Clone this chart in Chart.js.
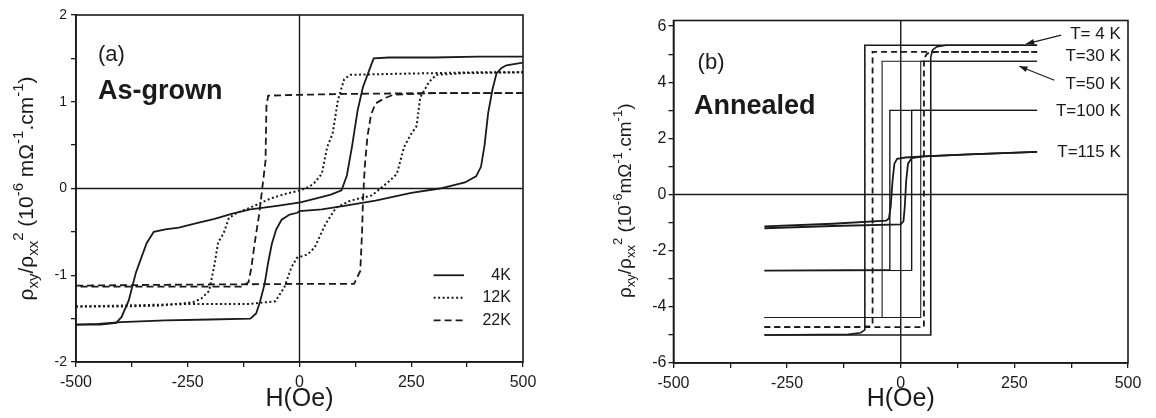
<!DOCTYPE html>
<html>
<head>
<meta charset="utf-8">
<script src="https://cdn.jsdelivr.net/npm/chart.js@4.4.1/dist/chart.umd.min.js"></script>
<style>
  html, body { margin: 0; padding: 0; background: #fff; }
  #wrap { position: relative; width: 1156px; height: 418px; overflow: hidden; }
  .panel { position: absolute; top: 0; width: 578px; height: 418px; }
</style>
</head>
<body>
<div id="wrap">
  <div class="panel" style="left:0"><canvas id="chart-a"></canvas></div>
  <div class="panel" style="left:578px"><canvas id="chart-b"></canvas></div>
</div>
<script>
// (a) As-grown — [H (Oe), rho_xy/rho_xx^2]
const a4kDown = [[500,1.52],[400,1.52],[300,1.51],[200,1.51],[166,1.50],[155,1.35],[142,1.17],[130,0.90],[118,0.50],[106,0.15],[94,-0.02],[70,-0.07],[40,-0.11],[2,-0.16],[-50,-0.20],[-110,-0.24],[-150,-0.29],[-190,-0.35],[-230,-0.40],[-270,-0.45],[-300,-0.47],[-326,-0.50],[-342,-0.63],[-354,-0.80],[-366,-0.97],[-382,-1.29],[-398,-1.48],[-410,-1.55],[-446,-1.57],[-500,-1.57]];
const a4kUp = [[-500,-1.57],[-450,-1.56],[-400,-1.54],[-300,-1.52],[-200,-1.51],[-110,-1.50],[-97,-1.44],[-88,-1.30],[-78,-1.10],[-70,-0.85],[-62,-0.64],[-52,-0.47],[-40,-0.36],[-22,-0.30],[-5,-0.28],[0,-0.26],[50,-0.24],[100,-0.20],[170,-0.14],[250,-0.05],[314,0.00],[370,0.07],[395,0.14],[406,0.25],[414,0.50],[422,0.87],[432,1.15],[441,1.33],[452,1.39],[463,1.42],[500,1.45]];
const a12kDown = [[500,1.34],[400,1.34],[300,1.33],[200,1.32],[114,1.31],[100,1.26],[86,1.02],[74,0.63],[62,0.48],[50,0.17],[34,0.07],[22,0.02],[2,-0.02],[-30,-0.06],[-62,-0.11],[-110,-0.22],[-140,-0.28],[-158,-0.34],[-170,-0.52],[-182,-0.62],[-190,-0.87],[-202,-1.18],[-220,-1.27],[-238,-1.31],[-310,-1.35],[-400,-1.36],[-500,-1.36]];
const a12kUp = [[-500,-1.36],[-400,-1.35],[-238,-1.33],[-110,-1.33],[-54,-1.30],[-34,-1.14],[-18,-0.91],[-6,-0.80],[18,-0.76],[34,-0.68],[58,-0.41],[82,-0.22],[114,-0.14],[162,-0.08],[202,0.09],[218,0.17],[234,0.48],[250,0.63],[262,0.72],[270,1.05],[290,1.23],[306,1.31],[370,1.33],[500,1.34]];
const a22kDown = [[500,1.10],[300,1.10],[100,1.09],[0,1.08],[-70,1.07],[-74,0.95],[-76,0.32],[-90,-0.29],[-100,-0.62],[-108,-0.92],[-114,-1.08],[-130,-1.13],[-300,-1.13],[-500,-1.13]];
const a22kUp = [[-500,-1.12],[-300,-1.11],[0,-1.10],[122,-1.10],[136,-0.95],[140,-0.50],[142,-0.14],[146,0.25],[152,0.60],[160,0.85],[170,0.98],[190,1.04],[210,1.08],[300,1.10],[500,1.10]];
const aLegend = ['4K', '12K', '22K'];

// (b) Annealed
const b4kDown = [[300,5.32],[0,5.32],[-79,5.32],[-79,-4.82],[-88,-4.92],[-115,-4.98],[-300,-5.00]];
const b4kUp = [[-300,-5.00],[66,-5.00],[66,4.90],[70,5.15],[80,5.27],[100,5.32],[300,5.32]];
const b30kDown = [[300,5.08],[-62,5.08],[-62,-4.62],[-70,-4.70],[-95,-4.72],[-300,-4.72]];
const b30kUp = [[-300,-4.72],[51,-4.72],[51,4.85],[58,5.02],[75,5.08],[300,5.08]];
const b50kDown = [[300,4.75],[-41,4.75],[-41,-4.38],[-300,-4.38]];
const b50kUp = [[-300,-4.38],[44,-4.38],[44,4.75],[300,4.75]];
const b100kDown = [[300,3.00],[-24,3.00],[-24,-2.68],[-300,-2.70]];
const b100kUp = [[-300,-2.72],[24,-2.70],[24,3.00],[300,3.00]];
const b115kDown = [[300,1.52],[150,1.43],[50,1.36],[10,1.32],[-8,1.27],[-14,1.10],[-18,0.50],[-22,-0.40],[-26,-0.85],[-32,-0.93],[-150,-1.04],[-300,-1.13]];
const b115kUp = [[-300,-1.20],[-150,-1.12],[0,-1.06],[6,-0.95],[9,-0.40],[12,0.50],[16,1.10],[24,1.30],[50,1.36],[150,1.43],[300,1.52]];
const bLabels = ['T= 4 K', 'T=30 K', 'T=50 K', 'T=100 K', 'T=115 K'];

const hTicks = [-500, -375, -250, -125, 0, 125, 250, 375, 500];
const aRhoTicks = [-2, -1.5, -1, -0.5, 0, 0.5, 1, 1.5, 2];
const bRhoTicks = [-6, -5, -4, -3, -2, -1, 0, 1, 2, 3, 4, 5, 6];

const FONT = '"Liberation Sans", Arial, Helvetica, sans-serif';
const INK = '#1a1a1a';

const hallModule = {
  charts: [],

  line(pts, width, dash) {
    return {
      data: pts.map(([x, y]) => ({ x, y })),
      showLine: true,
      pointRadius: 0,
      borderColor: INK,
      borderWidth: width,
      borderDash: dash || [],
      tension: 0,
      fill: false
    };
  },

  // rotated y title with sub/superscripts
  drawRuns(ctx, runs, size, cx, cy) {
    const fontOf = k => `${k === 'n' ? size : Math.round(size * 0.7)}px ${FONT}`;
    let total = 0;
    runs.forEach(([t, k]) => { ctx.font = fontOf(k); total += ctx.measureText(t).width; });
    ctx.save();
    ctx.translate(cx, cy);
    ctx.rotate(-Math.PI / 2);
    ctx.fillStyle = INK;
    ctx.textBaseline = 'alphabetic';
    ctx.textAlign = 'left';
    let x = -total / 2;
    const base = size * 0.36;
    runs.forEach(([t, k]) => {
      ctx.font = fontOf(k);
      const dy = k === 'sub' ? size * 0.24 : k === 'sup' ? -size * 0.44 : 0;
      ctx.fillText(t, x, base + dy);
      x += ctx.measureText(t).width;
    });
    ctx.restore();
  },

  arrow(ctx, x0, y0, x1, y1) {
    const a = Math.atan2(y1 - y0, x1 - x0);
    ctx.save();
    ctx.strokeStyle = INK;
    ctx.fillStyle = INK;
    ctx.lineWidth = 1.2;
    ctx.beginPath(); ctx.moveTo(x0, y0); ctx.lineTo(x1, y1); ctx.stroke();
    ctx.beginPath();
    ctx.moveTo(x1, y1);
    ctx.lineTo(x1 - 8 * Math.cos(a) + 3 * Math.sin(a), y1 - 8 * Math.sin(a) - 3 * Math.cos(a));
    ctx.lineTo(x1 - 8 * Math.cos(a) - 3 * Math.sin(a), y1 - 8 * Math.sin(a) + 3 * Math.cos(a));
    ctx.closePath(); ctx.fill();
    ctx.restore();
  },

  deco(cfg) {
    const mod = this;
    return {
      id: 'deco',
      beforeDatasetsDraw(chart) {
        const { ctx, chartArea: a, scales: { x, y } } = chart;
        ctx.save();
        ctx.strokeStyle = INK;
        ctx.lineWidth = 1.4;
        ctx.beginPath();
        ctx.moveTo(x.getPixelForValue(0), a.top); ctx.lineTo(x.getPixelForValue(0), a.bottom);
        ctx.moveTo(a.left, y.getPixelForValue(0)); ctx.lineTo(a.right, y.getPixelForValue(0));
        ctx.stroke();
        ctx.restore();
      },
      afterDatasetsDraw(chart) {
        const { ctx, chartArea: a, scales: { x, y } } = chart;
        ctx.save();
        ctx.strokeStyle = INK;
        ctx.lineWidth = 1.6;
        ctx.strokeRect(a.left, a.top, a.right - a.left, a.bottom - a.top);

        ctx.fillStyle = INK;
        ctx.textBaseline = 'alphabetic';
        ctx.textAlign = 'left';
        cfg.texts.forEach(t => {
          ctx.font = `${t.bold ? 'bold ' : ''}${t.size}px ${FONT}`;
          ctx.fillText(t.t, x.getPixelForValue(t.x), y.getPixelForValue(t.y));
        });

        if (cfg.legend) {
          const L = cfg.legend;
          L.rows.forEach(r => {
            const py = y.getPixelForValue(r.y);
            ctx.lineWidth = r.width;
            ctx.setLineDash(r.dash);
            ctx.beginPath();
            ctx.moveTo(x.getPixelForValue(L.x0), py);
            ctx.lineTo(x.getPixelForValue(L.x1), py);
            ctx.stroke();
            ctx.setLineDash([]);
            ctx.font = `16px ${FONT}`;
            ctx.textAlign = 'right';
            ctx.textBaseline = 'middle';
            ctx.fillText(r.label, x.getPixelForValue(L.textX), py);
          });
        }

        if (cfg.labels) {
          ctx.font = `17px ${FONT}`;
          ctx.textAlign = 'right';
          ctx.textBaseline = 'middle';
          cfg.labels.rows.forEach(r => {
            ctx.fillText(r.label, x.getPixelForValue(cfg.labels.x), y.getPixelForValue(r.y));
          });
        }
        (cfg.arrows || []).forEach(ar => {
          mod.arrow(ctx, x.getPixelForValue(ar[0]), y.getPixelForValue(ar[1]),
            x.getPixelForValue(ar[2]), y.getPixelForValue(ar[3]));
        });
        ctx.restore();

        mod.drawRuns(ctx, cfg.yTitle.runs, cfg.yTitle.size, cfg.yTitle.x, (a.top + a.bottom) / 2 + cfg.yTitle.dy);
      }
    };
  },

  makePanel(id, p) {
    const chart = new Chart(document.getElementById(id), {
      type: 'scatter',
      data: { datasets: p.datasets },
      options: {
        responsive: true,
        maintainAspectRatio: false,
        animation: false,
        events: [],
        layout: { padding: p.padding },
        plugins: { legend: { display: false }, tooltip: { enabled: false } },
        scales: {
          x: {
            type: 'linear', min: -500, max: 500,
            afterBuildTicks: s => { s.ticks = hTicks.map(v => ({ value: v })); },
            afterFit: s => { s.height = p.xHeight; },
            ticks: {
              autoSkip: false, maxRotation: 0, padding: 6, color: INK,
              font: { family: FONT, size: 16 },
              callback: v => (v % 250 === 0 ? String(v) : '')
            },
            grid: { drawOnChartArea: false, tickLength: 5, tickColor: INK, lineWidth: 1.3 },
            border: { color: INK, width: 1.6 },
            title: {
              display: true, text: 'H(Oe)', color: INK,
              font: { family: FONT, size: 25 }, padding: { top: 0, bottom: 4 }
            }
          },
          y: {
            type: 'linear', min: p.yMin, max: p.yMax,
            afterBuildTicks: s => { s.ticks = p.yTicks.map(v => ({ value: v })); },
            afterFit: s => { s.width = p.yWidth; },
            ticks: {
              autoSkip: false, padding: p.yPad, color: INK,
              font: { family: FONT, size: p.yFont },
              callback: v => (v % p.yStep === 0 ? String(v) : '')
            },
            grid: { drawOnChartArea: false, tickLength: 5, tickColor: INK, lineWidth: 1.3 },
            border: { color: INK, width: 1.6 }
          }
        }
      },
      plugins: [this.deco(p.deco)]
    });
    this.charts.push(chart);
  },

  init() {
    Chart.defaults.font.family = FONT;

    this.makePanel('chart-a', {
      padding: { left: 0, right: 55, top: 15, bottom: 0 },
      xHeight: 56, yWidth: 76, yPad: 4, yFont: 14, yStep: 1,
      yMin: -2, yMax: 2, yTicks: aRhoTicks,
      datasets: [
        this.line(a4kDown, 1.8), this.line(a4kUp, 1.8),
        this.line(a12kDown, 2, [2, 2.5]), this.line(a12kUp, 2, [2, 2.5]),
        this.line(a22kDown, 1.8, [7, 4]), this.line(a22kUp, 1.8, [7, 4])
      ],
      deco: {
        texts: [
          { t: '(a)', x: -451, y: 1.47, size: 22 },
          { t: 'As-grown', x: -451, y: 1.03, size: 27, bold: true }
        ],
        legend: {
          x0: 300, x1: 368, textX: 473,
          rows: [
            { label: aLegend[0], y: -1.0, width: 1.8, dash: [] },
            { label: aLegend[1], y: -1.26, width: 2, dash: [2, 2.5] },
            { label: aLegend[2], y: -1.52, width: 1.8, dash: [7, 4] }
          ]
        },
        yTitle: {
          x: 25, dy: 0, size: 21,
          runs: [['ρ','n'],['xy','sub'],['/ρ','n'],['xx','sub'],['2','sup'],[' (10','n'],['-6','sup'],[' mΩ','n'],['-1','sup'],['.cm','n'],['-1','sup'],[')','n']]
        }
      }
    });

    this.makePanel('chart-b', {
      padding: { left: 0, right: 28, top: 20.5, bottom: 0 },
      xHeight: 55, yWidth: 95.5, yPad: 2, yFont: 16, yStep: 2,
      yMin: -6, yMax: 6.2, yTicks: bRhoTicks,
      datasets: [
        this.line(b4kDown, 1.6), this.line(b4kUp, 1.6),
        this.line(b30kDown, 1.8, [6, 4]), this.line(b30kUp, 1.8, [6, 4]),
        this.line(b50kDown, 1.1), this.line(b50kUp, 1.1),
        this.line(b100kDown, 1.4), this.line(b100kUp, 1.4),
        this.line(b115kDown, 1.8), this.line(b115kUp, 1.8)
      ],
      deco: {
        texts: [
          { t: '(b)', x: -447, y: 4.47, size: 22 },
          { t: 'Annealed', x: -455, y: 2.88, size: 27, bold: true }
        ],
        labels: {
          x: 484,
          rows: bLabels.map((label, i) => ({ label, y: [5.71, 4.93, 3.92, 2.95, 1.49][i] }))
        },
        arrows: [[353, 5.68, 276, 5.37], [338, 4.07, 261, 4.57]],
        yTitle: {
          x: 46, dy: 9, size: 19,
          runs: [['ρ','n'],['xy','sub'],['/ρ','n'],['xx','sub'],['2','sup'],[' (10','n'],['-6','sup'],['mΩ','n'],['-1','sup'],['.cm','n'],['-1','sup'],[')','n']]
        }
      }
    });
  }
};

hallModule.init();
</script>
</body>
</html>
